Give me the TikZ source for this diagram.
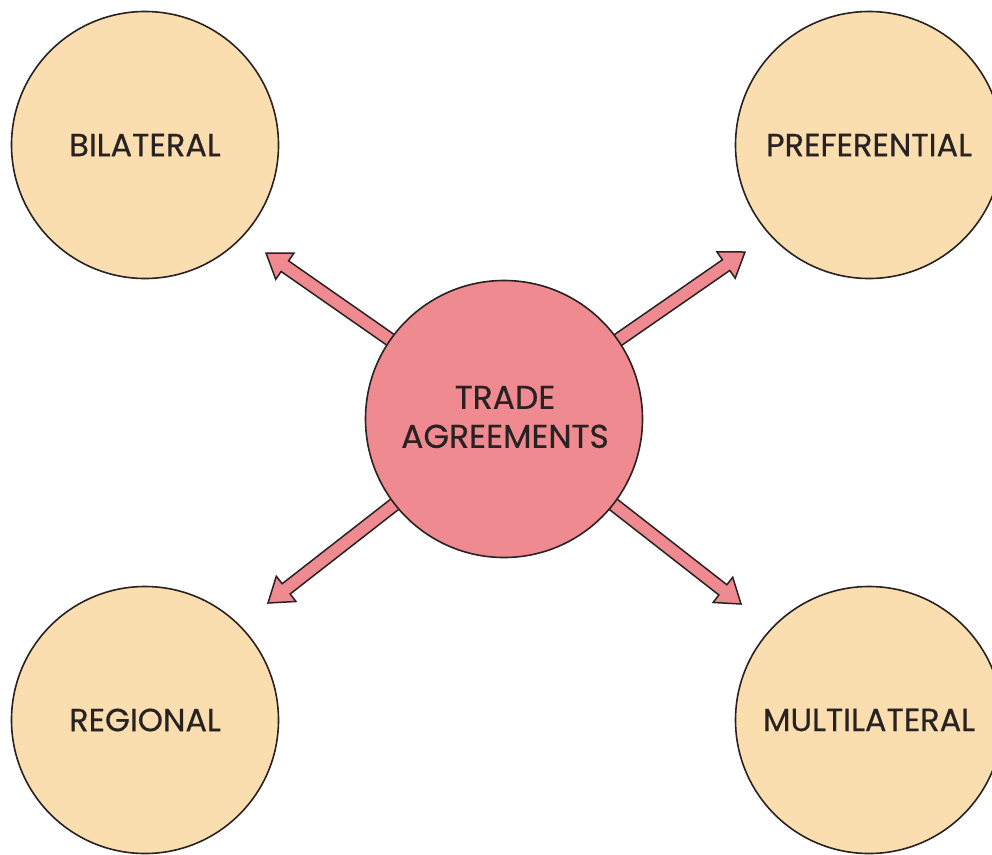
\documentclass[tikz,border=0pt]{standalone}
\usepackage{fontspec}
\setmainfont{Poppins}[FakeBold=0.5]
\newfontfamily\labelfont{Poppins}[FakeBold=0.5]
\usetikzlibrary{calc,backgrounds}
\definecolor{beige}{RGB}{250,222,176}
\definecolor{rose}{RGB}{238,138,144}
\definecolor{edge}{RGB}{40,34,34}
\tikzset{
  outer/.style={circle, draw=edge, line width=1.6pt, fill=beige, minimum size=267pt, inner sep=0pt, font=\labelfont\fontsize{32}{38}\selectfont, text=edge},
  hub/.style={circle, draw=edge, line width=1.6pt, fill=rose, minimum size=277pt, inner sep=0pt},
  hubtext/.style={align=center, inner sep=0pt, font=\labelfont\fontsize{33}{39}\selectfont, text=edge},
  fatarrow/.style={fill=rose, draw=edge, line width=1.5pt, line join=miter}
}
\newcommand\fatconnector[2]{%
  \coordinate (#2n) at ($(#2)!23pt!(#1)$);
  \path[fatarrow] ($(#1)!6.5pt!90:(#2)$) -- ($(#2n)!6.5pt!90:(#2)$) -- ($(#2n)!16pt!90:(#2)$) -- (#2)
    -- ($(#2n)!16pt!-90:(#2)$) -- ($(#2n)!6.5pt!-90:(#2)$) -- ($(#1)!6.5pt!-90:(#2)$) -- cycle;}
\begin{document}
\begin{tikzpicture}[x=1pt,y=-1pt]
\useasboundingbox (0,0) rectangle (992,854);
\clip (0,0) rectangle (992,854);
\node[outer] (bil) at (145,145) {BILATERAL};
\node[outer] (pref) at (869,145) {PREFERENTIAL};
\node[outer] (reg) at (145,720) {REGIONAL};
\node[outer] (mult) at (869,720) {MULTILATERAL};
\node[hub] (trade) at (504,419) {};
\node[hubtext] (tradelabel) at (505,417) {TRADE\\AGREEMENTS};
\coordinate (tip1) at (266,253);
\coordinate (tip2) at (745,252);
\coordinate (tip3) at (268,603);
\coordinate (tip4) at (741,604);
\begin{pgfonlayer}{background}
\fatconnector{trade.center}{tip1}
\fatconnector{trade.center}{tip2}
\fatconnector{trade.center}{tip3}
\fatconnector{trade.center}{tip4}
\end{pgfonlayer}
\end{tikzpicture}
\end{document}
